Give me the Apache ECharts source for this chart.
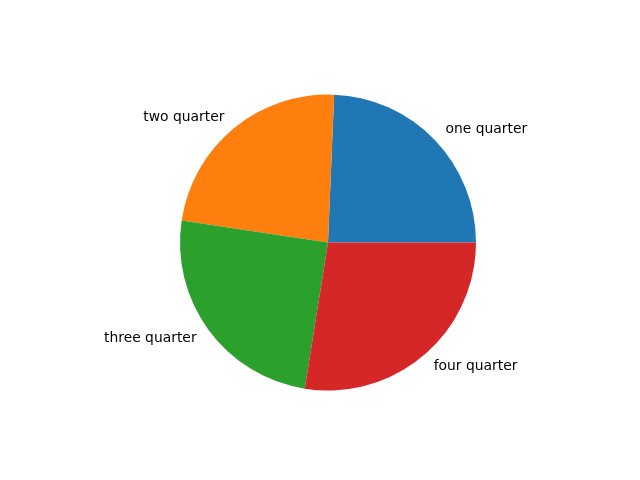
<!DOCTYPE html>
<html>
<head>
<meta charset="utf-8">
<script src="https://cdn.jsdelivr.net/npm/echarts@6/dist/echarts.min.js"></script>
<style>
html,body{margin:0;padding:0;background:#fff;}
#c{width:640px;height:480px;}
</style>
</head>
<body>
<div id="c"></div>
<script>
const categories = ['one quarter', 'two quarter', 'three quarter', 'four quarter'];
const values = [23, 22, 23.5, 26];
const colors = ['#1f77b4', '#ff7f0e', '#2ca02c', '#d62728'];

const chart = echarts.init(document.getElementById('c'), null, {renderer: 'canvas'});
chart.setOption({
  animation: false,
  backgroundColor: '#ffffff',
  series: [{
    type: 'pie',
    center: [328, 242.5],
    radius: 148,
    startAngle: 0,
    clockwise: false,
    avoidLabelOverlap: false,
    minShowLabelAngle: 0,
    emphasis: {disabled: true},
    itemStyle: {borderWidth: 0},
    label: {
      show: true,
      position: 'outside',
      color: '#000',
      fontFamily: 'DejaVu Sans',
      fontSize: 13.89,
      distanceToLabelLine: 0
    },
    labelLine: {show: false, length: 14.8, length2: 0},
    data: categories.map((n, i) => ({name: n, value: values[i], itemStyle: {color: colors[i]}}))
  }]
});
</script>
</body>
</html>
